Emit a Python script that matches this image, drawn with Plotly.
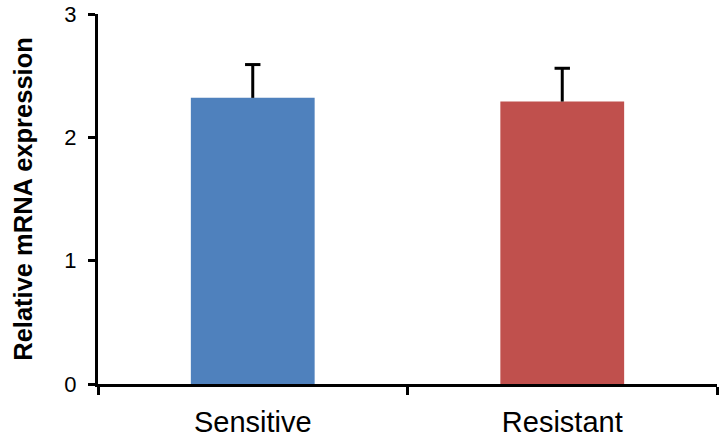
import plotly.graph_objects as go

categories = ["Sensitive", "Resistant"]
values = [2.32, 2.29]
errors = [0.27, 0.27]
colors = ["#4F81BD", "#C0504D"]
y_ticks = [0, 1, 2, 3]

tops = [v + e for v, e in zip(values, errors)]

fig = go.Figure()
fig.add_trace(go.Bar(
    x=categories,
    y=values,
    marker=dict(color=colors, line=dict(width=0)),
    showlegend=False,
    hoverinfo="skip",
))
# one-sided (upper) error bars: stem from bar top to value+error, cap at top
fig.add_trace(go.Scatter(
    x=categories,
    y=tops,
    mode="markers",
    marker=dict(symbol="line-ew", size=11, color="black",
                line=dict(color="black", width=3)),
    error_y=dict(type="data", symmetric=False, array=[0] * len(errors),
                 arrayminus=errors, color="black", thickness=3, width=0),
    showlegend=False,
))

fig.update_layout(
    width=721, height=447,
    margin=dict(l=98, r=4, t=14, b=63),
    plot_bgcolor="white", paper_bgcolor="white",
    bargap=0.6,
    font=dict(family="Liberation Sans, Arial, sans-serif", color="black"),
)
fig.update_yaxes(
    range=[0, 3], tickvals=y_ticks, ticktext=[str(t) for t in y_ticks],
    showgrid=False, zeroline=False, automargin=False,
    showline=True, linecolor="black", linewidth=3,
    ticks="outside", ticklen=7, tickwidth=2.5, tickcolor="black",
    tickfont=dict(size=22), ticklabelstandoff=7,
    title=dict(text="<b>Relative mRNA expression</b>", font=dict(size=25.5), standoff=25),
)
fig.update_xaxes(
    showgrid=False, zeroline=False, automargin=False,
    showline=True, linecolor="black", linewidth=3,
    ticks="outside", tickson="boundaries", ticklen=8, tickwidth=2.5, tickcolor="black",
    tickfont=dict(size=29), ticklabelstandoff=10,
)

# remove the browser's default 8px body margin so the figure fills the window
fig.write_html("out.html", config={"displayModeBar": False},
               post_script="document.body.style.margin='0';")
